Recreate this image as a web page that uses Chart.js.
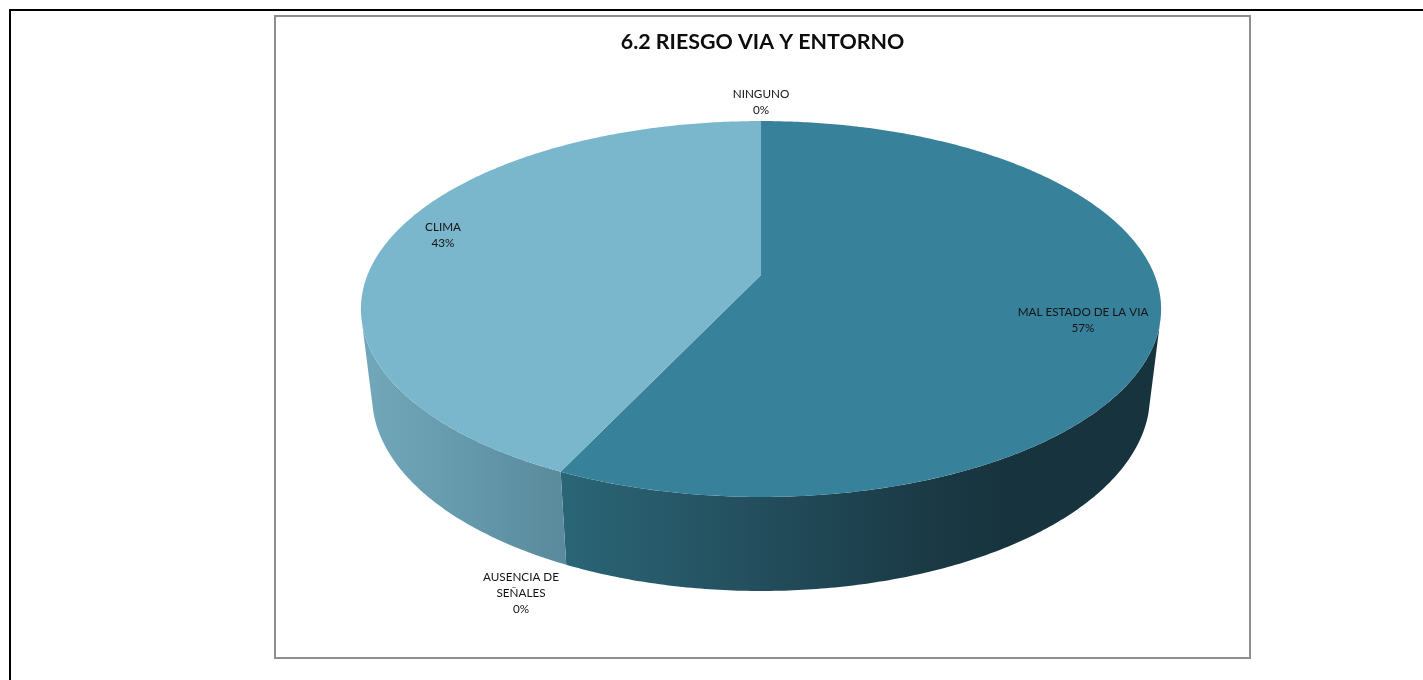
<!DOCTYPE html>
<html>
<head>
<meta charset="utf-8">
<title>6.2 RIESGO VIA Y ENTORNO</title>
<script src="https://cdn.jsdelivr.net/npm/chart.js@4"></script>
<style>
    html, body { margin: 0; background: #fff; overflow: hidden; }
    #pagina { position: absolute; left: 9px; top: 9px; width: 1414px; height: 671px; border-left: 2px solid #000; border-top: 2px solid #000; box-sizing: border-box; }
    #cornice { position: absolute; left: 274px; top: 15px; width: 977px; height: 644px; border: 2px solid #8e8e8e; box-sizing: border-box; background: #fff; }
    #grafico { display: block; }
</style>
</head>
<body>
<div id="pagina"></div>
<div id="cornice"><canvas id="grafico" width="973" height="640"></canvas></div>
<script>
const titolo = '6.2 RIESGO VIA Y ENTORNO'
const categorie = ['MAL ESTADO DE LA VIA', ['AUSENCIA DE', 'SEÑALES'], 'CLIMA', 'NINGUNO']
const valori = [57, 0, 43, 0]
const coloriFaccia = ['#38819b', '#5b8fa3', '#7ab6cc', '#9a9a9a']

// centre of the first line of each label, in canvas pixels
const posEtichette = [[807, 295], [245, 560], [167, 210], [485, 77]]

// the top disc and the base are two circles seen in perspective
const disco = { cx: 485, cy: 258, a: 393.5, b: 181.8, k: 0.181 }
const base = { cx: 485, cy: 343.7, a: 382.5, b: 188.6, k: 0.181 }

// the wall only shows between these two angles (front of the cake)
const muroDa = 15 * Math.PI / 180
const muroA = 165 * Math.PI / 180

function proietta(c, ang) {
    let u = Math.cos(ang)
    let v = Math.sin(ang)
    let w = 1 - c.k * v
    return [c.cx + c.a * u / w, c.cy + c.b * v / w]
}

function tracciaArco(ctx, c, da, a, primo) {
    let passi = Math.max(2, Math.ceil(Math.abs(a - da) / 0.01))
    for(let i=0;i<=passi;i++) {
        let p = proietta(c, da + (a - da) * i / passi)
        if(primo && i == 0)
            ctx.moveTo(p[0], p[1])
        else
            ctx.lineTo(p[0], p[1])
    }
}

function gradienteMuro(ctx, x0, x1, stops) {
    let g = ctx.createLinearGradient(x0, 0, x1, 0)
    stops.forEach((s) => g.addColorStop(s[0], s[1]))
    return g
}

// wall shading, left to right
const muri = [
    [[0, '#2a6576'], [0.3, '#24505f'], [0.6, '#1b3b47'], [0.75, '#17343e'], [1, '#17343e']],
    null,
    [[0, '#71a6b9'], [0.5, '#6498ab'], [1, '#5a8a9c']],
    null
]

const torta3d = {
    id: 'torta3d',
    beforeDatasetDraw(chart, args) {
        const ctx = chart.ctx
        const archi = args.meta.data

        // walls first, the top disc covers whatever overlaps
        archi.forEach((arco, i) => {
            let da = Math.max(arco.startAngle, muroDa)
            let a = Math.min(arco.endAngle, muroA)
            if(a <= da || !muri[i]) return

            ctx.beginPath()
            tracciaArco(ctx, disco, da, a, true)
            tracciaArco(ctx, base, a, da, false)
            ctx.closePath()
            ctx.fillStyle = gradienteMuro(ctx, proietta(base, a)[0], proietta(base, da)[0], muri[i])
            ctx.fill()
        })

        archi.forEach((arco) => {
            if(arco.endAngle - arco.startAngle <= 0) return
            ctx.beginPath()
            ctx.moveTo(disco.cx, disco.cy)
            tracciaArco(ctx, disco, arco.startAngle, arco.endAngle, false)
            ctx.closePath()
            ctx.fillStyle = arco.options.backgroundColor
            ctx.fill()
        })

        // category name and percentage
        ctx.font = '11.7px Lato'
        ctx.fillStyle = '#141414'
        ctx.textAlign = 'center'
        ctx.textBaseline = 'middle'
        categorie.forEach((cat, i) => {
            let righe = [].concat(cat, valori[i] + '%')
            righe.forEach((riga, r) => {
                ctx.fillText(riga, posEtichette[i][0], posEtichette[i][1] + r * 16.3)
            })
        })

        return false
    }
}

new Chart(document.getElementById('grafico'), {
    type: 'pie',
    data: {
        labels: categorie,
        datasets: [{
            data: valori,
            backgroundColor: coloriFaccia,
            borderWidth: 0
        }]
    },
    options: {
        responsive: false,
        animation: false,
        plugins: {
            legend: { display: false },
            tooltip: { enabled: false },
            title: {
                display: true,
                text: titolo,
                color: '#0d0d0d',
                font: { family: 'Lato', size: 21.4, weight: 'bold' },
                padding: { top: 12, bottom: 10 }
            }
        }
    },
    plugins: [torta3d]
})
</script>
</body>
</html>
